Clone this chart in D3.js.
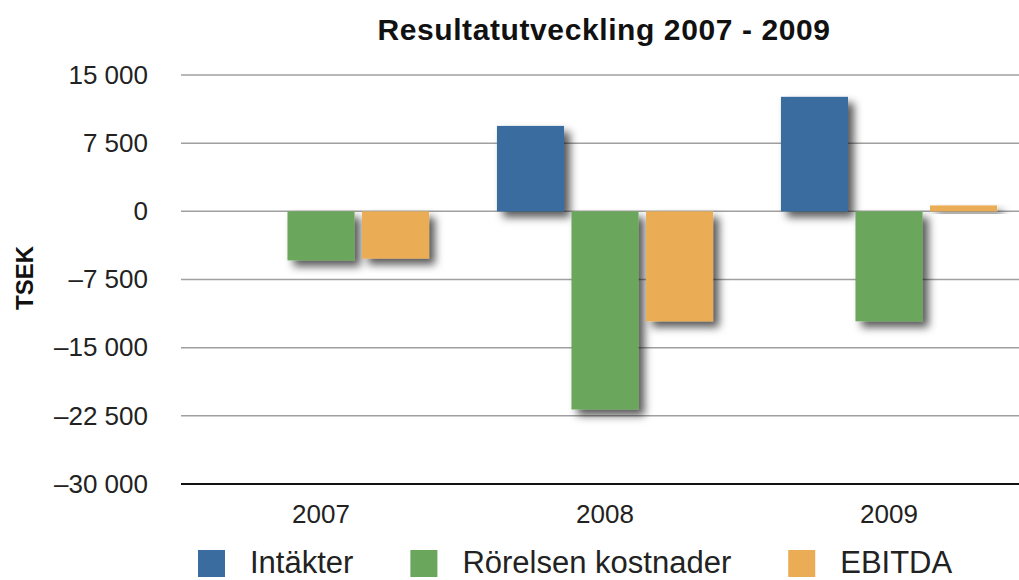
<!DOCTYPE html>
<html>
<head>
<meta charset="utf-8">
<script src="https://cdn.jsdelivr.net/npm/d3@7"></script>
<style>
  body { margin: 0; background: #fff; }
  text { font-family: "Liberation Sans", Arial, Helvetica, sans-serif; }
</style>
</head>
<body>
<div id="chart"></div>
<script>
// Data
const years = ['2007', '2008', '2009'];
const seriesNames = ['Intäkter', 'Rörelsen kostnader', 'EBITDA'];
const intakter = [0, 9400, 12600];
const rorelsenKostnader = [-5400, -21800, -12100];
const ebitda = [-5200, -12100, 650];
const yTicks = [15000, 7500, 0, -7500, -15000, -22500, -30000];
const seriesColors = ['#3b6ca0', '#6aa65b', '#eaad55'];

const width = 1019;
const height = 580;

const svg = d3.select('#chart')
    .append('svg')
    .attr('width', width)
    .attr('height', height);

// skugga under staplarna
const defs = svg.append('defs');
defs.append('filter')
    .attr('id', 'shadow')
    .attr('x', '-20%').attr('y', '-20%')
    .attr('width', '150%').attr('height', '150%')
    .append('feDropShadow')
    .attr('dx', 6)
    .attr('dy', 6)
    .attr('stdDeviation', 4.5)
    .attr('flood-color', '#000')
    .attr('flood-opacity', 0.65);

const x0 = d3.scaleBand()
    .domain(years)
    .range([179, 1031])
    .paddingInner(0.239)
    .paddingOuter(0.1195);

const x1 = d3.scaleBand()
    .domain(seriesNames)
    .range([0, x0.bandwidth()])
    .paddingInner(0.1);

const y = d3.scaleLinear()
    .domain([-30000, 15000])
    .range([484, 75]);

const colorScale = d3.scaleOrdinal()
    .domain(seriesNames)
    .range(seriesColors);

const locale = d3.formatLocale({
    decimal: ',',
    thousands: '\u00a0',
    grouping: [3],
    currency: ['', ' kr'],
    minus: '\u2013'
});
const fmt = locale.format(',d');

// Rutnät
svg.append('g')
    .selectAll('line')
    .data(yTicks.filter(d => d !== -30000))
    .enter()
    .append('line')
    .attr('x1', 181)
    .attr('x2', width)
    .attr('y1', d => y(d))
    .attr('y2', d => y(d))
    .attr('stroke', '#a0a0a0')
    .attr('stroke-width', 1.5);

// Y-axel etiketter
const yAxis = d3.axisLeft(y)
    .tickValues(yTicks)
    .tickFormat(fmt)
    .tickSize(0)
    .tickPadding(0);

const yAxisG = svg.append('g')
    .attr('transform', 'translate(148,0)')
    .call(yAxis);
yAxisG.select('.domain').remove();
yAxisG.selectAll('text')
    .attr('fill', '#222')
    .style('font-size', '26px');

// Staplar
const rows = years.map((yr, i) => ({
    year: yr,
    values: [
        {name: seriesNames[0], value: intakter[i]},
        {name: seriesNames[1], value: rorelsenKostnader[i]},
        {name: seriesNames[2], value: ebitda[i]}
    ]
}));

const groups = svg.append('g')
    .selectAll('g')
    .data(rows)
    .enter()
    .append('g')
    .attr('transform', d => `translate(${x0(d.year)},0)`);

groups.selectAll('rect')
    .data(d => d.values.filter(v => v.value !== 0))
    .enter()
    .append('rect')
    .attr('x', d => x1(d.name))
    .attr('width', x1.bandwidth())
    .attr('y', d => y(Math.max(0, d.value)))
    .attr('height', d => Math.abs(y(d.value) - y(0)))
    .attr('fill', d => colorScale(d.name))
    .attr('filter', 'url(#shadow)');

// X-axel
const xAxis = d3.axisBottom(x0)
    .tickSize(0)
    .tickPadding(0);

const xAxisG = svg.append('g')
    .attr('transform', `translate(0,${y(-30000)})`)
    .call(xAxis);
xAxisG.select('.domain').remove();
xAxisG.selectAll('text')
    .attr('fill', '#222')
    .attr('dy', 0)
    .attr('y', 39)
    .style('font-size', '26px');

svg.append('line')
    .attr('x1', 181)
    .attr('x2', width)
    .attr('y1', y(-30000))
    .attr('y2', y(-30000))
    .attr('stroke', '#111')
    .attr('stroke-width', 2);

// Titel
svg.append('text')
    .attr('x', 604)
    .attr('y', 40)
    .attr('text-anchor', 'middle')
    .attr('fill', '#111')
    .style('font-size', '30px')
    .style('letter-spacing', '0.6px')
    .style('font-weight', 'bold')
    .text('Resultatutveckling 2007 - 2009');

svg.append('text')
    .attr('transform', 'translate(33,278) rotate(-90)')
    .attr('text-anchor', 'middle')
    .attr('fill', '#111')
    .style('font-size', '24px')
    .style('font-weight', 'bold')
    .text('TSEK');

// Förklaring
const legend = svg.append('g')
    .attr('transform', 'translate(198,550)');

let lx = 0;
seriesNames.forEach(name => {
    const item = legend.append('g')
        .attr('transform', `translate(${lx},0)`);
    item.append('rect')
        .attr('width', 27)
        .attr('height', 27)
        .attr('fill', colorScale(name));
    const t = item.append('text')
        .attr('x', 52)
        .attr('y', 23)
        .attr('fill', '#222')
        .style('font-size', '31px')
        .text(name);
    lx += 52 + t.node().getComputedTextLength() + 57;
});
</script>
</body>
</html>
